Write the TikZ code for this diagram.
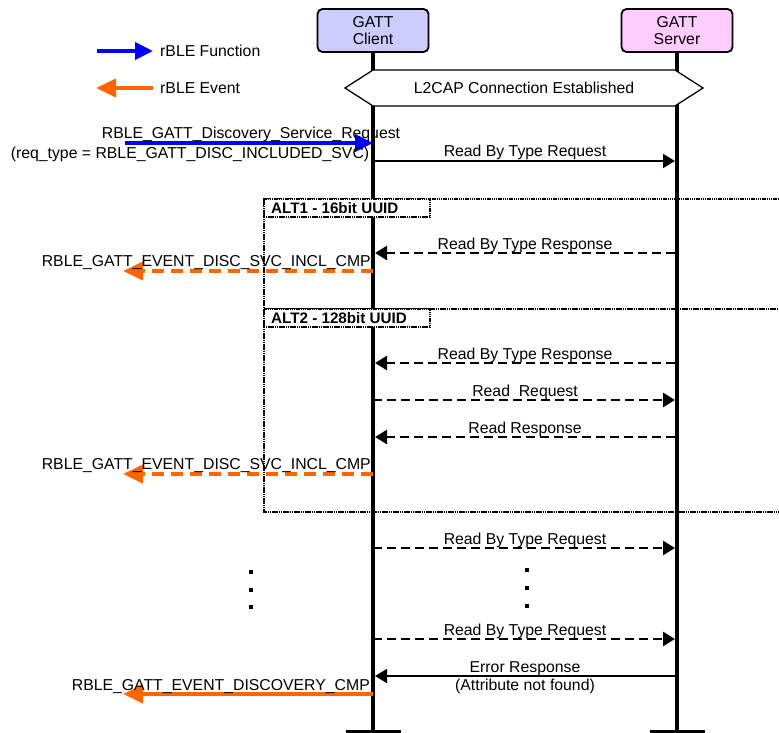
\documentclass[tikz,border=0pt]{standalone}
\usepackage{fontspec}
\setmainfont{Liberation Sans}
\usetikzlibrary{arrows.meta}

\definecolor{clientfill}{RGB}{204,204,255}
\definecolor{serverfill}{RGB}{255,204,255}
\definecolor{rbleblue}{RGB}{0,0,255}
\definecolor{rbleorange}{RGB}{255,102,0}

\tikzset{
  actor/.style={draw, line width=1.8pt, rounded corners=5pt, minimum width=111pt,
    minimum height=43pt, align=center, inner sep=0pt,
    font=\fontsize{15.8}{17}\selectfont},
  lifeline/.style={line width=3.5pt},
  endbar/.style={line width=3pt},
  lbl/.style={font=\fontsize{15.8}{17}\selectfont, inner sep=0pt},
  altlbl/.style={font=\bfseries\fontsize{15.2}{16}\selectfont, inner sep=0pt, anchor=base west},
  frameline/.style={line width=1.8pt, dash pattern=on 1.5pt off 0.7pt},
  msgsolid/.style={line width=1.6pt, -{Triangle[length=12pt,width=14pt]}},
  msgdash/.style={line width=2.6pt, dash pattern=on 9pt off 5pt, -{Triangle[length=12pt,width=14pt]}},
  fnarrow/.style={rbleblue, line width=4pt, -{Triangle[length=18pt,width=17pt]}},
  evarrow/.style={rbleorange, line width=4pt, -{Triangle[length=20pt,width=18pt]}},
  evdash/.style={evarrow, dash pattern=on 12pt off 7pt},
  dotmark/.style={fill=black, minimum size=4pt, inner sep=0pt},
}

\begin{document}
\begin{tikzpicture}[x=1pt, y=-1pt]
\useasboundingbox (0,0) rectangle (779,733);

% ALT frames (behind the lifelines)
\draw[frameline] (779,199) -- (264,199) -- (264,512) -- (779,512);
\draw[frameline] (264,309) -- (779,309);

% actors and lifelines
\node[actor, fill=clientfill] (client) at (373,30.5) {GATT\\Client};
\node[actor, fill=serverfill] (server) at (677,30.5) {GATT\\Server};
\coordinate (clientend) at (373,731);
\coordinate (serverend) at (677,731);
\draw[lifeline] (client.south) -- (clientend);
\draw[lifeline] (server.south) -- (serverend);
\draw[endbar] ([xshift=-27.5pt]clientend) -- ([xshift=27.5pt]clientend);
\draw[endbar] ([xshift=-27.5pt]serverend) -- ([xshift=27.5pt]serverend);

% legend
\coordinate (lgf1) at (97,51);
\coordinate (lgf2) at (153,51);
\coordinate (lge1) at (153,88);
\coordinate (lge2) at (96,88);
\draw[fnarrow] (lgf1) -- (lgf2);
\draw[evarrow] (lge1) -- (lge2);
\node[lbl, anchor=west] (lgfn) at (160,51) {rBLE Function};
\node[lbl, anchor=west] (lgev) at (160,88) {rBLE Event};

% connection setup
\draw[line width=1.3pt, fill=white] (345,88) -- (373,70) -- (675,70) -- (703,88) -- (675,106) -- (373,106) -- cycle;
\node[lbl] (l2cap) at (524,88) {L2CAP Connection Established};

% discovery request
\coordinate (req0) at (125,143);
\coordinate (req1) at (373,143);
\draw[fnarrow] (req0) -- (req1);
\node[lbl, anchor=base] (reqa) at (251,139) {RBLE\_GATT\_Discovery\_Service\_Request};
\node[lbl, anchor=base] (reqb) at (190,158) {(req\_type = RBLE\_GATT\_DISC\_INCLUDED\_SVC)};

\coordinate (m1c) at (373,161);
\coordinate (m1s) at (675,161);
\draw[msgsolid] (m1c) -- (m1s);
\node[lbl, anchor=base] (m1l) at (525,157) {Read By Type Request};

% ALT1
\draw[frameline, fill=white] (264,199) rectangle (430,217);
\node[altlbl] (alt1) at (271,213) {ALT1 - 16bit UUID};

\coordinate (m2s) at (675,253);
\coordinate (m2c) at (375,253);
\draw[msgdash] (m2s) -- (m2c);
\node[lbl, anchor=base] (m2l) at (525,249) {Read By Type Response};

\coordinate (e1c) at (373,271);
\coordinate (e1x) at (123,271);
\draw[evdash] (e1c) -- (e1x);
\node[lbl, anchor=base east] (e1l) at (371,266.5) {RBLE\_GATT\_EVENT\_DISC\_SVC\_INCL\_CMP};

% ALT2
\draw[frameline, fill=white] (264,309) rectangle (430,327);
\node[altlbl] (alt2) at (271,323) {ALT2 - 128bit UUID};

\coordinate (m3s) at (675,363);
\coordinate (m3c) at (375,363);
\draw[msgdash] (m3s) -- (m3c);
\node[lbl, anchor=base] (m3l) at (525,359) {Read By Type Response};

\coordinate (m4c) at (373,400);
\coordinate (m4s) at (675,400);
\draw[msgdash] (m4c) -- (m4s);
\node[lbl, anchor=base] (m4l) at (525,396) {Read\ \ Request};

\coordinate (m5s) at (675,437);
\coordinate (m5c) at (375,437);
\draw[msgdash] (m5s) -- (m5c);
\node[lbl, anchor=base] (m5l) at (525,433) {Read Response};

\coordinate (e2c) at (373,474);
\coordinate (e2x) at (123,474);
\draw[evdash] (e2c) -- (e2x);
\node[lbl, anchor=base east] (e2l) at (371,469.5) {RBLE\_GATT\_EVENT\_DISC\_SVC\_INCL\_CMP};

% remaining requests
\coordinate (m6c) at (373,548);
\coordinate (m6s) at (675,548);
\draw[msgdash] (m6c) -- (m6s);
\node[lbl, anchor=base] (m6l) at (525,544) {Read By Type Request};

\node[dotmark] (dl1) at (251,572) {};
\node[dotmark] (dl2) at (251,590) {};
\node[dotmark] (dl3) at (251,607) {};
\node[dotmark] (dr1) at (527,570) {};
\node[dotmark] (dr2) at (527,588) {};
\node[dotmark] (dr3) at (527,606) {};

\coordinate (m7c) at (373,639);
\coordinate (m7s) at (675,639);
\draw[msgdash] (m7c) -- (m7s);
\node[lbl, anchor=base] (m7l) at (525,635) {Read By Type Request};

\coordinate (m8s) at (675,676);
\coordinate (m8c) at (375,676);
\draw[msgsolid] (m8s) -- (m8c);
\node[lbl, anchor=base] (m8l) at (525,672) {Error Response};
\node[lbl, anchor=base] (m8n) at (525,690) {(Attribute not found)};

\coordinate (e3c) at (373,694);
\coordinate (e3x) at (123,694);
\draw[evarrow] (e3c) -- (e3x);
\node[lbl, anchor=base east] (e3l) at (370,690) {RBLE\_GATT\_EVENT\_DISCOVERY\_CMP};

\end{tikzpicture}
\end{document}
